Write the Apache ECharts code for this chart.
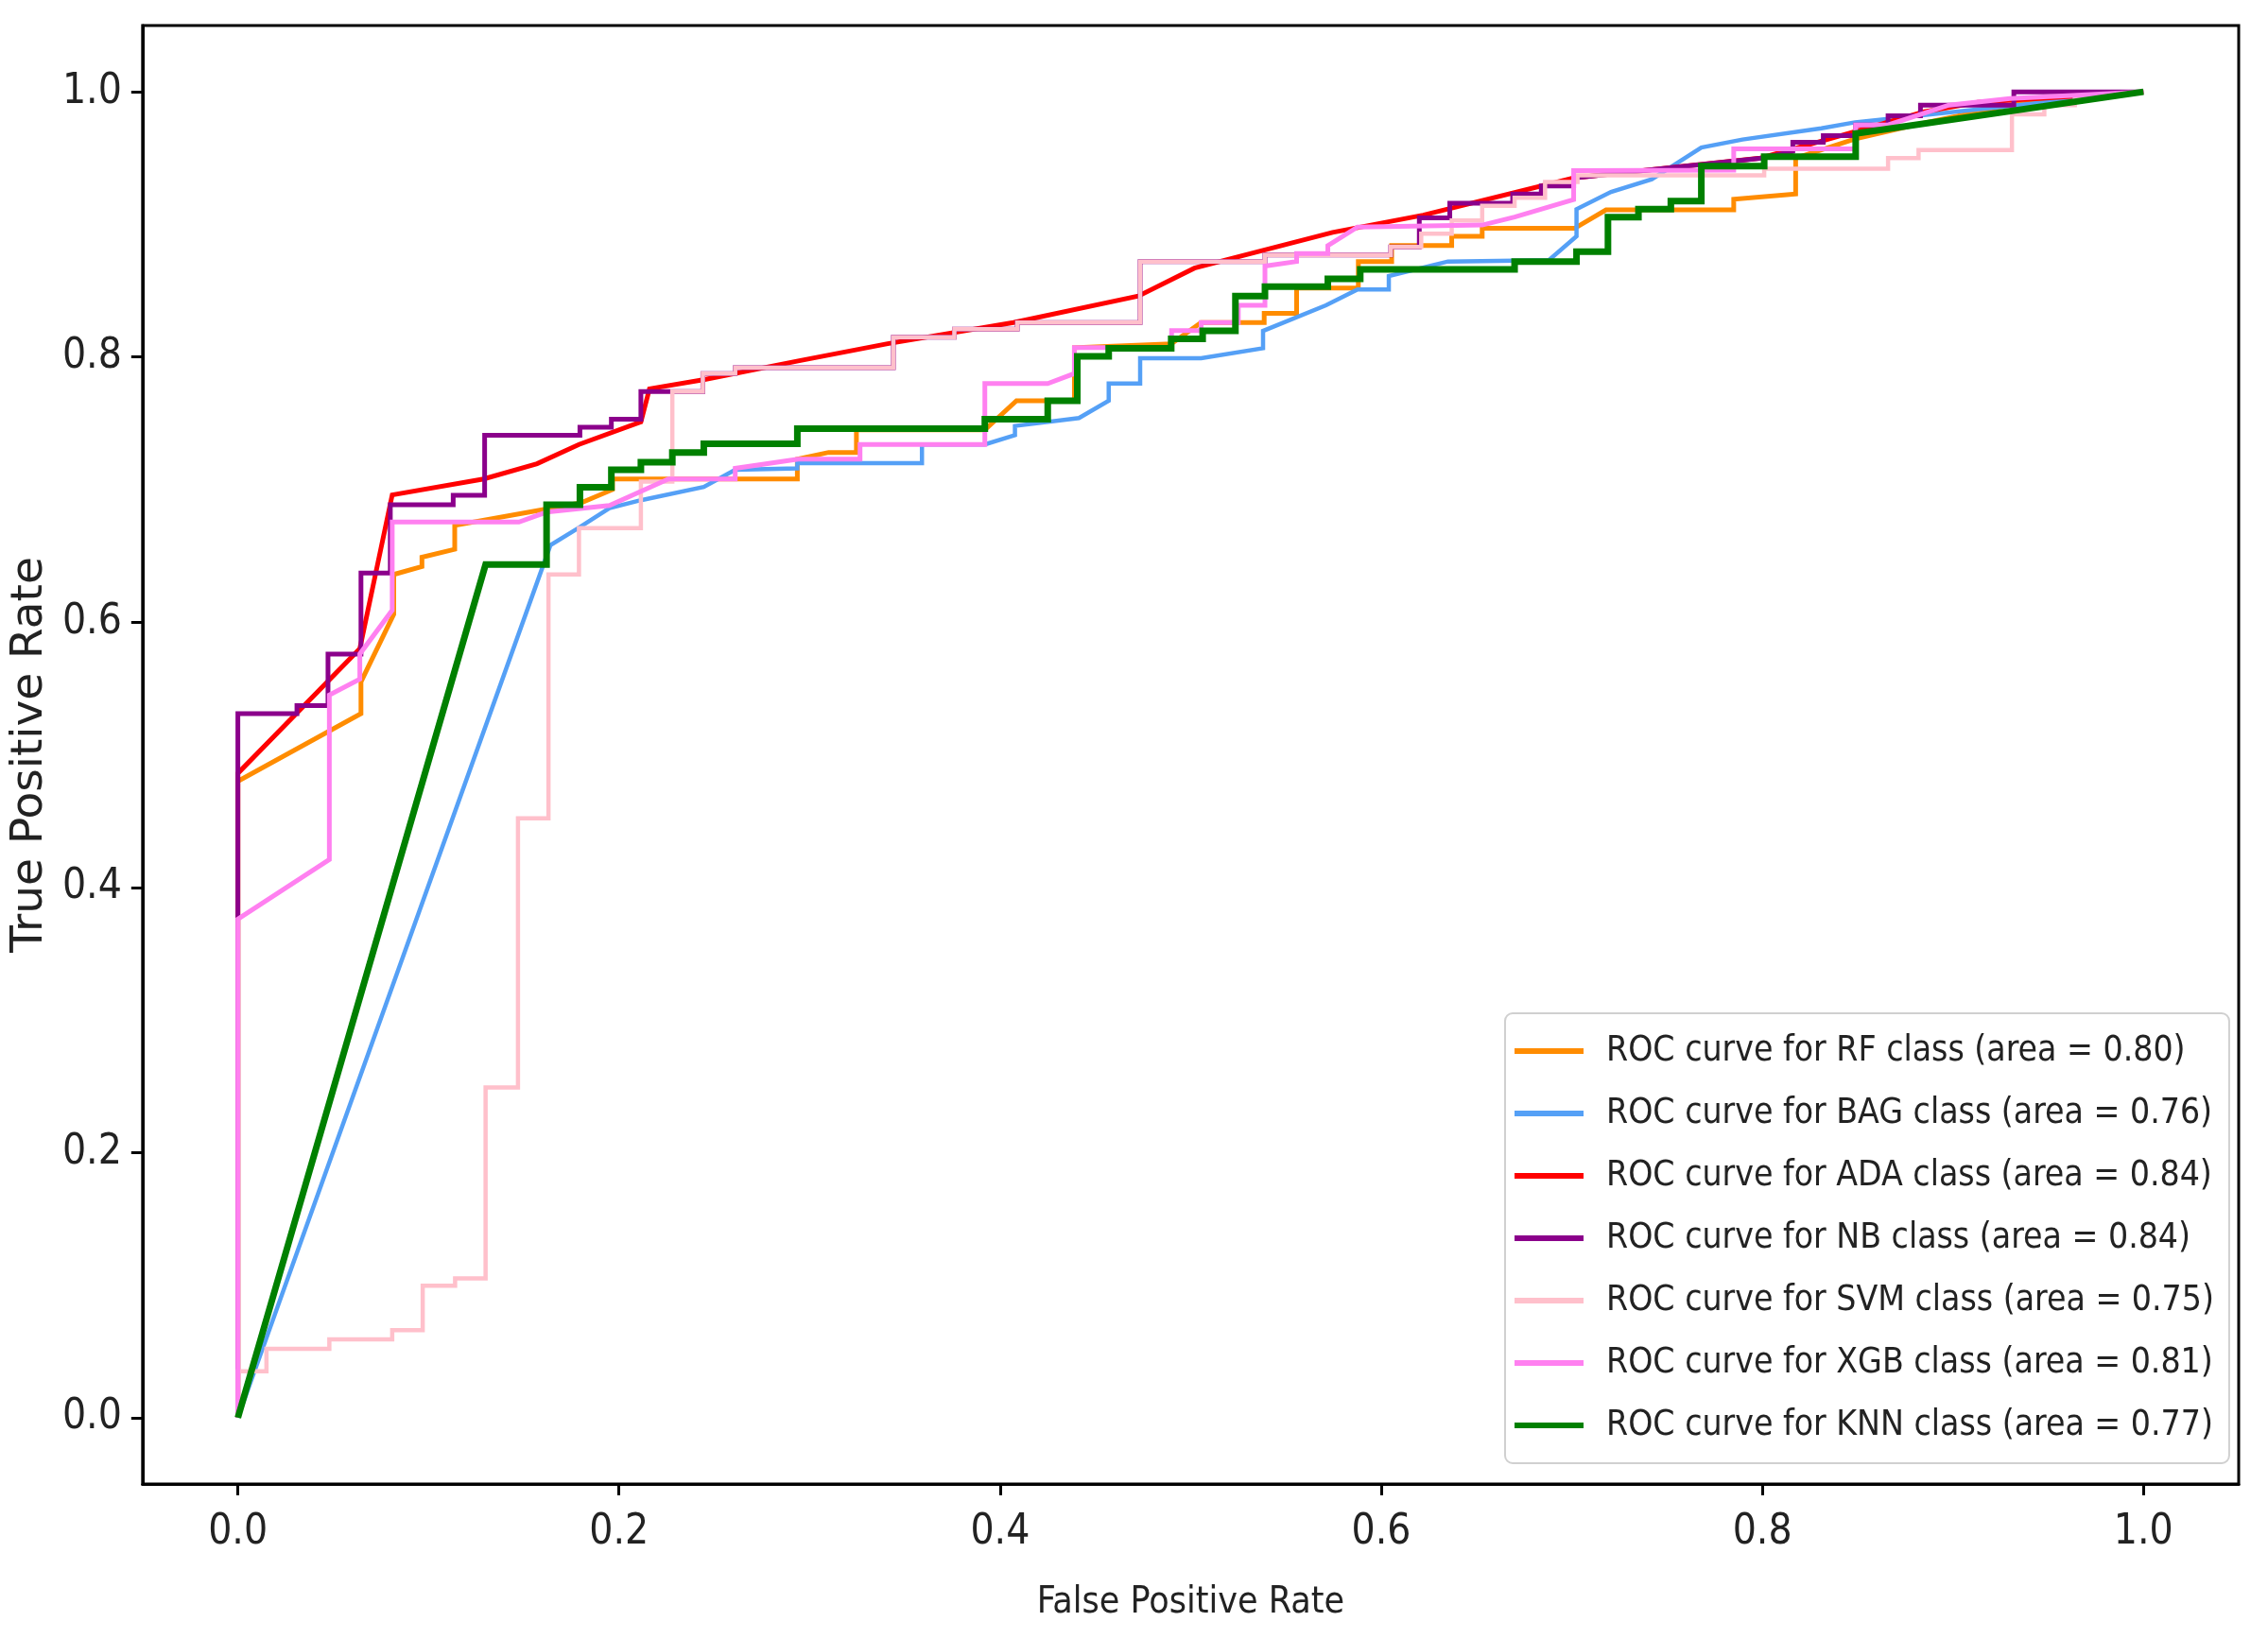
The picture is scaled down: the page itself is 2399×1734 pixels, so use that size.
<!DOCTYPE html>
<html>
<head>
<meta charset="utf-8">
<script src="https://cdn.jsdelivr.net/npm/echarts@6/dist/echarts.min.js"></script>
<style>
html,body{margin:0;padding:0;background:#fff;}
#chart{width:2399px;height:1734px;}
</style>
</head>
<body>
<div id="chart"></div>
<script>
// ---- data (FPR, TPR) ----
const seriesNames = ['RF','BAG','ADA','NB','SVM','XGB','KNN'];
const aucValues = ['0.80','0.76','0.84','0.84','0.75','0.81','0.77'];
const tickValues = [0,0.2,0.4,0.6,0.8,1.0];

const RF = [[0,0],[0,0.48],[0.0646,0.531],[0.0646,0.555],[0.0818,0.606],[0.0818,0.636],[0.0966,0.642],[0.0966,0.649],[0.1138,0.655],[0.1138,0.673],[0.18,0.69],[0.1966,0.70],[0.1966,0.708],[0.2936,0.708],[0.2936,0.723],[0.31,0.728],[0.3246,0.728],[0.3246,0.745],[0.392,0.745],[0.4086,0.767],[0.439,0.767],[0.439,0.807],[0.49,0.81],[0.5055,0.826],[0.5386,0.826],[0.5386,0.833],[0.5556,0.833],[0.5556,0.852],[0.588,0.852],[0.588,0.872],[0.6055,0.872],[0.6055,0.884],[0.637,0.884],[0.637,0.891],[0.653,0.891],[0.653,0.897],[0.7015,0.897],[0.718,0.911],[0.785,0.911],[0.785,0.919],[0.8175,0.923],[0.8175,0.95],[0.85,0.965],[0.88,0.975],[0.93,0.99],[1,1]];

const BAG = [[0,0],[0.164,0.658],[0.1787,0.671],[0.195,0.686],[0.2115,0.692],[0.2445,0.702],[0.261,0.715],[0.2936,0.716],[0.2936,0.72],[0.359,0.72],[0.359,0.734],[0.392,0.734],[0.4078,0.741],[0.4078,0.748],[0.4414,0.754],[0.457,0.767],[0.457,0.780],[0.4735,0.780],[0.4735,0.799],[0.5055,0.799],[0.538,0.8066],[0.538,0.8197],[0.571,0.839],[0.5876,0.851],[0.604,0.851],[0.604,0.861],[0.635,0.872],[0.688,0.873],[0.7025,0.891],[0.7025,0.9115],[0.7206,0.9245],[0.742,0.934],[0.768,0.958],[0.7896,0.964],[0.831,0.9725],[0.8487,0.977],[1,1]];

const ADA = [[0,0],[0,0.486],[0.064,0.58],[0.081,0.696],[0.129,0.708],[0.157,0.7195],[0.179,0.734],[0.2115,0.751],[0.216,0.776],[0.245,0.783],[0.294,0.797],[0.341,0.810],[0.407,0.826],[0.4726,0.846],[0.502,0.867],[0.5745,0.894],[0.622,0.907],[0.701,0.935],[0.799,0.950],[0.834,0.964],[0.885,0.985],[0.913,0.992],[1,1]];

const NB = [[0,0],[0,0.378],[0,0.531],[0.031,0.531],[0.031,0.537],[0.0473,0.537],[0.0473,0.576],[0.0646,0.576],[0.0646,0.637],[0.080,0.637],[0.080,0.6886],[0.113,0.6886],[0.113,0.6957],[0.1295,0.6957],[0.1295,0.741],[0.1795,0.741],[0.1795,0.747],[0.196,0.747],[0.196,0.753],[0.2115,0.753],[0.2115,0.774],[0.244,0.774],[0.244,0.7875],[0.261,0.7875],[0.261,0.792],[0.344,0.792],[0.344,0.815],[0.376,0.815],[0.376,0.821],[0.409,0.821],[0.409,0.826],[0.4735,0.826],[0.4735,0.872],[0.539,0.872],[0.539,0.877],[0.605,0.877],[0.605,0.883],[0.62,0.883],[0.62,0.905],[0.636,0.905],[0.636,0.916],[0.669,0.916],[0.669,0.923],[0.684,0.923],[0.684,0.929],[0.701,0.929],[0.701,0.935],[0.80,0.95],[0.816,0.955],[0.816,0.962],[0.832,0.962],[0.832,0.967],[0.849,0.967],[0.849,0.975],[0.866,0.975],[0.866,0.982],[0.883,0.982],[0.883,0.99],[0.932,0.99],[0.932,1.0],[1,1]];

const SVM = [[0,0],[0,0.035],[0.015,0.035],[0.015,0.052],[0.048,0.052],[0.048,0.059],[0.081,0.059],[0.081,0.066],[0.097,0.066],[0.097,0.0995],[0.114,0.0995],[0.114,0.105],[0.130,0.105],[0.130,0.249],[0.147,0.249],[0.147,0.452],[0.163,0.452],[0.163,0.636],[0.179,0.636],[0.179,0.671],[0.2115,0.671],[0.2115,0.706],[0.228,0.706],[0.228,0.774],[0.244,0.774],[0.244,0.7875],[0.261,0.7875],[0.261,0.792],[0.344,0.792],[0.344,0.815],[0.376,0.815],[0.376,0.821],[0.409,0.821],[0.409,0.826],[0.4735,0.826],[0.4735,0.872],[0.539,0.872],[0.539,0.877],[0.605,0.877],[0.605,0.883],[0.621,0.883],[0.621,0.893],[0.637,0.893],[0.637,0.903],[0.653,0.903],[0.653,0.914],[0.670,0.914],[0.670,0.920],[0.686,0.920],[0.686,0.932],[0.703,0.932],[0.703,0.937],[0.801,0.937],[0.801,0.942],[0.866,0.942],[0.866,0.950],[0.882,0.950],[0.882,0.956],[0.931,0.956],[0.931,0.983],[0.948,0.983],[0.948,0.990],[0.964,0.990],[0.964,0.996],[1,1]];

const XGB = [[0,0],[0,0.376],[0.048,0.421],[0.048,0.545],[0.064,0.557],[0.064,0.576],[0.081,0.609],[0.081,0.6755],[0.1475,0.6755],[0.162,0.683],[0.195,0.688],[0.226,0.708],[0.261,0.708],[0.261,0.716],[0.294,0.723],[0.3265,0.723],[0.3265,0.734],[0.392,0.734],[0.392,0.780],[0.425,0.780],[0.439,0.7875],[0.439,0.807],[0.49,0.807],[0.49,0.82],[0.5055,0.82],[0.5055,0.826],[0.525,0.826],[0.525,0.839],[0.539,0.839],[0.539,0.8686],[0.5556,0.872],[0.5556,0.878],[0.572,0.878],[0.572,0.884],[0.5876,0.898],[0.653,0.8995],[0.670,0.9055],[0.701,0.9187],[0.701,0.9405],[0.785,0.941],[0.785,0.957],[0.849,0.957],[0.849,0.975],[0.866,0.975],[0.898,0.99],[0.93,0.995],[1,1]];

const KNN = [[0,0],[0.130,0.6435],[0.162,0.6435],[0.162,0.6886],[0.1795,0.6886],[0.1795,0.7017],[0.196,0.7017],[0.196,0.715],[0.2115,0.715],[0.2115,0.7207],[0.228,0.7207],[0.228,0.728],[0.2445,0.728],[0.2445,0.7346],[0.2936,0.7346],[0.2936,0.746],[0.392,0.746],[0.392,0.753],[0.425,0.753],[0.425,0.767],[0.4405,0.767],[0.4405,0.8005],[0.457,0.8005],[0.457,0.8066],[0.4898,0.8066],[0.4898,0.8137],[0.5063,0.8137],[0.5063,0.8197],[0.5235,0.8197],[0.5235,0.846],[0.539,0.846],[0.539,0.853],[0.572,0.853],[0.572,0.859],[0.589,0.859],[0.589,0.866],[0.670,0.866],[0.670,0.872],[0.7025,0.872],[0.7025,0.8795],[0.719,0.8795],[0.719,0.9055],[0.735,0.9055],[0.735,0.9115],[0.752,0.9115],[0.752,0.9175],[0.768,0.9175],[0.768,0.944],[0.801,0.944],[0.801,0.951],[0.849,0.951],[0.849,0.9685],[1,1]];

const curves = [RF, BAG, ADA, NB, SVM, XGB, KNN];
const colors = ['#FF8C00','#55A0F6','#FF0000','#8B008B','#FFC0CB','#FF80F0','#008000'];
const widths = [5,4.5,5,5,4.5,5,7];

const chart = echarts.init(document.getElementById('chart'), null, {renderer:'canvas'});
const condFont = "'DejaVu Sans Condensed','Liberation Sans Narrow','DejaVu Sans',sans-serif";

const series = curves.map((d,i)=>({
  name: 'ROC curve for ' + seriesNames[i] + ' class (area = ' + aucValues[i] + ')',
  type: 'line',
  data: d,
  showSymbol: false,
  symbol: 'none',
  color: colors[i],
  lineStyle: {color: colors[i], width: widths[i], join:'miter'},
  animation: false,
  z: 2 + i
}));

function axisCommon(){
  return {
    type:'value', min:-0.05, max:1.05,
    splitLine:{show:false},
    axisLine:{show:true, onZero:false, lineStyle:{color:'#000', width:3}},
    axisTick:{show:true, length:12, customValues: tickValues, lineStyle:{color:'#000', width:3}},
    axisLabel:{customValues: tickValues, formatter: v => v.toFixed(1), color:'#222', fontSize:44, fontFamily: condFont},
    nameLocation:'middle'
  };
}

const xAxis = Object.assign(axisCommon(), {
  name:'False Positive Rate', nameGap:106,
  nameTextStyle:{fontSize:39, fontFamily: condFont, color:'#222'}
});
xAxis.axisLabel.margin = 30;
const yAxis = Object.assign(axisCommon(), {
  name:'True Positive Rate', nameGap:90,
  nameTextStyle:{fontSize:47, fontFamily:"'DejaVu Sans',sans-serif", color:'#222'}
});
yAxis.axisLabel.margin = 22;

chart.setOption({
  backgroundColor:'#fff',
  animation:false,
  grid:{left:135, right:31, top:27, bottom:164, show:true, borderColor:'#000', borderWidth:3, backgroundColor:'transparent'},
  xAxis: xAxis,
  yAxis: yAxis,
  legend:{
    orient:'vertical', left:1592, top:1072,
    padding:[20,16,20,10],
    backgroundColor:'#fff', borderColor:'#d0d0d0', borderWidth:2, borderRadius:8,
    itemWidth:73, itemHeight:6, itemGap:26, icon:'rect',
    textStyle:{fontSize:37, lineHeight:40, color:'#222', fontFamily: condFont, padding:[0,0,0,19]},
    data: series.map(s=>s.name)
  },
  series: series
});
</script>
</body>
</html>
